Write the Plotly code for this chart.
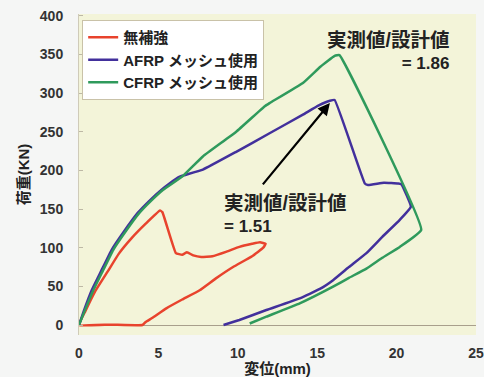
import plotly.graph_objects as go

# ---- data (displacement mm, load kN) ----
red_x = [0, 0.4, 1.0, 1.8, 2.5, 3.3, 4.2, 5.1, 5.25, 6.1, 6.5, 6.8, 7.2, 7.7, 8.4, 9.3, 10.1, 10.9, 11.4, 11.75, 11.6, 10.9, 9.7, 8.6, 7.6, 6.5, 5.5, 4.6, 4.2, 4.0, 2.0, 0]
red_y = [0, 18, 43, 69, 92, 112, 131, 148, 146, 93, 91, 94, 90, 88, 89, 95, 101, 105, 107, 105, 100, 89, 75, 60, 45, 33, 21.6, 9, 4, 0, 0.5, 0]

blue_x = [0, 0.3, 0.8, 1.4, 2.05, 2.8, 3.7, 4.4, 5.2, 5.7, 6.25, 6.5, 7.8, 9.9, 12.0, 14.1, 15.1, 15.8, 16.1, 18.0, 18.2, 19.2, 20.1, 20.3, 20.9, 20.2, 19.1, 18.1, 17.0, 16.0, 15.2, 13.9, 11.8, 10.1, 9.1]
blue_y = [0, 18, 45, 70, 97, 120, 145, 160, 175, 183, 191, 193, 201, 224, 248, 272, 284, 290, 291, 183, 181, 184, 183, 182, 153, 136, 114, 93, 75, 58, 47, 34.5, 19.4, 6.5, 0]

green_x = [0, 0.35, 0.9, 1.5, 2.15, 2.9, 3.8, 4.5, 5.3, 6.5, 7.8, 9.9, 11.7, 12.0, 14.1, 15.2, 16.1, 16.4, 21.55, 20.2, 19.1, 18.1, 17.0, 16.0, 13.9, 11.8, 10.75]
green_y = [0, 18, 45, 70, 97, 120, 145, 160, 175, 192, 218, 250, 283, 287, 313, 334, 348, 349, 123, 101, 87, 73, 61, 49.6, 28, 10.8, 2]

series_names = ["無補強", "AFRP メッシュ使用", "CFRP メッシュ使用"]
x_ticks = [0, 5, 10, 15, 20, 25]
y_ticks = [0, 50, 100, 150, 200, 250, 300, 350, 400]

ann_top = ["実測値/設計値", "= 1.86"]
ann_mid = ["実測値/設計値", "= 1.51"]
arrow_tip = (15.8, 287)
arrow_tail = (11.5, 180)

FONT = "Liberation Sans, Noto Sans CJK JP, sans-serif"
colors = ["#e8432d", "#42309c", "#2f9a5c"]


def two_line(lines):
    return ('<span style="font-size:19.5px">%s</span><br>%s' % (lines[0], lines[1]))


fig = go.Figure()
for xs, ys, name, c in zip([red_x, blue_x, green_x], [red_y, blue_y, green_y], series_names, colors):
    fig.add_trace(go.Scatter(x=xs, y=ys, mode="lines", name=name,
                             line=dict(color=c, width=2.5, shape="spline", smoothing=0.3)))

fig.add_annotation(x=23.45, y=355, xref="x", yref="y", text=two_line(ann_top),
                   showarrow=False, xanchor="right", yanchor="middle", align="right",
                   font=dict(family=FONT, size=17, color="#222", weight="bold"))
fig.add_annotation(x=9.0, y=144, xref="x", yref="y", text=two_line(ann_mid),
                   showarrow=False, xanchor="left", yanchor="middle", align="left",
                   font=dict(family=FONT, size=17, color="#222", weight="bold"))
fig.add_annotation(x=arrow_tip[0], y=arrow_tip[1], ax=arrow_tail[0], ay=arrow_tail[1],
                   xref="x", yref="y", axref="x", ayref="y", text="",
                   showarrow=True, arrowhead=2, arrowsize=1.1, arrowwidth=2.2, arrowcolor="#000")

fig.update_layout(
    width=484, height=377,
    margin=dict(l=79, r=8, t=14, b=42, autoexpand=False),
    paper_bgcolor="#f5f6f5",
    plot_bgcolor="#f3f4d9",
    font=dict(family=FONT, size=14, color="#333"),
    showlegend=True,
    legend=dict(x=0.008, y=0.981, xanchor="left", yanchor="top",
                bgcolor="#ffffff", bordercolor="#c9c2a8", borderwidth=1,
                font=dict(family=FONT, size=15, color="#222", weight="bold"),
                itemwidth=30, tracegroupgap=0),
    xaxis=dict(range=[0, 25], tickvals=x_ticks, showgrid=False, zeroline=False,
               showline=False, ticks="outside", ticklen=5, tickcolor="rgba(0,0,0,0)",
               automargin=False,
               tickfont=dict(family=FONT, size=14, color="#333", weight="bold"),
               title=dict(text="変位(mm)", standoff=0,
                          font=dict(family=FONT, size=15, color="#222", weight="bold"))),
    yaxis=dict(range=[-12.9, 402.2], tickvals=y_ticks, showgrid=False,
               zeroline=True, zerolinecolor="#a89f8c", zerolinewidth=1,
               showline=True, linecolor="#cfcbb8", linewidth=1,
               ticks="inside", ticklen=4, tickcolor="#bdb8a5",
               ticklabelstandoff=12, automargin=False,
               tickfont=dict(family=FONT, size=14, color="#333", weight="bold"),
               title=dict(text="荷重(KN)", standoff=6,
                          font=dict(family=FONT, size=15, color="#222", weight="bold"))),
)

fig.write_html("out.html", config={"displayModeBar": False},
               post_script="document.body.style.margin='0';document.body.style.padding='0';")
